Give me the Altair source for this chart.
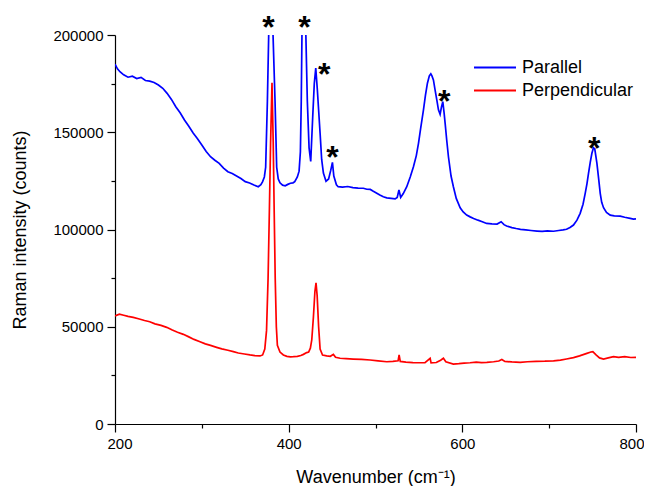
import altair as alt
import pandas as pd

# Parallel (blue) spectrum: wavenumber, intensity
par_x = [200, 203, 206, 210, 215, 220, 225, 230, 235, 240, 245, 250, 255, 260, 265, 270, 275, 280,
         285, 290, 295, 300, 305, 310, 315, 320, 325, 330, 335, 340, 345, 350, 355, 360, 365, 368,
         370, 372, 373.5, 375.5, 377, 379.5, 382, 384.3, 386.2, 388, 390, 393, 396, 399, 402, 405,
         407, 410, 412, 413.5, 414.5, 415.3, 417.5, 419.8, 421.5, 423.5, 425.4, 427.7, 429.5, 431.2,
         433, 436.2, 438, 440, 443, 446, 448.5, 450.4, 452, 455, 457, 462, 468, 474, 480, 486, 490,
         494, 497, 501, 505, 509, 513, 518, 522.6, 525, 527, 529, 532, 536, 540, 543.7, 547, 549.5,
         552, 555.2, 557.5, 559.8, 562, 563.7, 565, 566.7, 568.5, 570.6, 572.5, 574.4, 576, 577.5,
         579, 580.2, 582, 584, 587, 589.7, 593, 597.5, 601, 605, 609, 613, 618, 623, 628, 634, 640,
         644.7, 648, 651, 657, 662, 667, 673, 679, 686, 692, 698, 705, 711, 716, 720, 724, 728, 732,
         735.7, 739, 741.5, 743.5, 745.3, 747.3, 749.2, 751, 752.5, 755, 757, 758.8, 760.5, 762.6,
         766, 770.3, 775, 781.8, 787, 793.3, 797, 800]
par_y = [185000, 182500, 181000, 179500, 178300, 178800, 177600, 178200, 176600, 176300, 175600,
         174300, 172600, 170000, 166900, 163100, 160000, 156300, 153100, 149600, 146700, 143400,
         140100, 137400, 135600, 134000, 131600, 129700, 128800, 127500, 126200, 124600, 123900,
         122900, 122000, 123000, 124600, 127000, 132000, 166000, 200000, 262000, 200000, 166000,
         132000, 126000, 124000, 122800, 122500, 123200, 123800, 124000, 124600, 127000, 130000,
         140000, 166000, 200000, 255000, 200000, 166000, 142000, 135000, 158000, 175000, 183000,
         172000, 149500, 136000, 129000, 124800, 126000, 130500, 134500, 127500, 123000, 122000,
         121800, 122100, 121500, 121300, 121200, 120700, 120600, 119800, 118800, 117700, 116800,
         116300, 116000, 115700, 116500, 120300, 116500, 118500, 122000, 127000, 132300, 138000,
         144300, 152000, 161400, 169000, 175200, 179000, 180000, 179000, 176900, 172000, 166600,
         161500, 159200, 163000, 165700, 160000, 154600, 146000, 137400, 127500, 122000, 116000,
         111200, 109000, 107400, 106500, 105700, 104800, 104000, 103100, 102900, 102800, 104000,
         102500, 101800, 101000, 100500, 100100, 99800, 99500, 99200, 99000, 99300, 99100, 99500,
         99800, 100100, 101000, 102300, 104800, 108300, 113000, 118600, 123500, 128900, 134500,
         139200, 142000, 141500, 134000, 126000, 118600, 114000, 111200, 108800, 107400, 107000,
         106900, 106300, 105700, 105300, 105500]

# Perpendicular (red) spectrum
per_x = [200, 205, 210, 215, 221, 228, 234, 240, 246, 253, 259.5, 266, 272, 278.7, 285, 291, 297.9,
         304, 310, 317, 323, 330, 336.3, 342, 349, 355.5, 361, 367, 370, 372.5, 374.5, 376.3, 377.8,
         379.2, 380.8, 382.2, 383.3, 384.5, 385.8, 387, 390, 393.9, 398, 402, 405.4, 410, 414, 417,
         420.8, 423, 425, 426.6, 428.5, 430.2, 431.5, 432.8, 434.5, 436.2, 439, 443.8, 448, 451.5,
         454, 459.2, 466, 474.5, 484, 493.8, 503, 513, 520, 526, 527.2, 528.5, 535, 543, 551.4, 557,
         562.9, 564, 570, 575, 578.2, 581, 589.7, 596, 602, 608.9, 616, 622, 628.2, 636, 642, 645.5,
         649, 657, 666.6, 675, 685, 695, 705, 713, 720, 728, 735, 743.4, 748, 750.3, 754, 758, 762.6,
         768, 774.1, 780, 787, 794, 800]
per_y = [55500, 56500, 55900, 55300, 54850, 54000, 53200, 52600, 51500, 50700, 49700, 48300, 47200,
         46100, 44800, 43500, 42300, 41200, 40400, 39400, 38600, 37900, 37200, 36500, 36000, 35500,
         35200, 35000, 35500, 38500, 48000, 75000, 110000, 145000, 175500, 145000, 110000, 75000,
         50000, 40500, 37000, 35500, 34800, 34500, 34600, 34800, 35200, 35800, 36700, 37000, 39000,
         43200, 55000, 68000, 72600, 66000, 50000, 38500, 35500, 35000, 34800, 35800, 34300, 33800,
         33600, 33400, 33200, 32900, 32500, 32000, 32200, 32500, 35500, 32200, 31800, 31600, 31500,
         31600, 33800, 31400, 31600, 32800, 33800, 32000, 30800, 31000, 31300, 31500, 31800, 31600,
         31700, 32000, 32400, 33200, 32200, 31900, 31700, 32000, 32200, 32300, 32500, 32800, 33400,
         34100, 35000, 36300, 37000, 37200, 35500, 34000, 33400, 34000, 34600, 34300, 34600, 34200,
         34300]

# Asterisk annotations (glyph baseline positions)
star_x = [376.6, 418.1, 440.8, 450.3, 579, 751.8]
star_y = [198600, 198600, 174200, 131400, 160200, 136500]

series_names = ["Parallel", "Perpendicular"]
series_colors = ["#0000FF", "#FF0000"]

df = pd.concat([
    pd.DataFrame({"x": par_x, "y": par_y, "series": "Parallel", "order": range(len(par_x))}),
    pd.DataFrame({"x": per_x, "y": per_y, "series": "Perpendicular", "order": range(len(per_x))}),
])
stars = pd.DataFrame({"x": star_x, "y": star_y, "t": ["*"] * len(star_x)})

FONT = "Liberation Sans"

xscale = alt.Scale(domain=[200, 800], nice=False, zero=False)
yscale = alt.Scale(domain=[0, 200000], nice=False)

xaxis = alt.Axis(
    title="Wavenumber (cm⁻¹)",
    values=list(range(200, 801, 100)),
    labelExpr="datum.value % 200 === 0 ? datum.label : ''",
    tickSize={"condition": {"test": "datum.value % 200 === 0", "value": 8}, "value": 4},
    labelPadding=4, titlePadding=17, grid=False, labelFlush=True, labelFlushOffset=8,
)
yaxis = alt.Axis(
    title="Raman intensity (counts)",
    values=list(range(0, 200001, 25000)),
    format="d",
    labelExpr="datum.value % 50000 === 0 ? datum.label : ''",
    tickSize={"condition": {"test": "datum.value % 50000 === 0", "value": 8}, "value": 4},
    labelPadding=4, titlePadding=23, grid=False, labelFlush=False,
)

lines = alt.Chart(df).mark_line(clip=True, strokeWidth=1.7).encode(
    x=alt.X("x:Q", scale=xscale, axis=xaxis),
    y=alt.Y("y:Q", scale=yscale, axis=yaxis),
    color=alt.Color(
        "series:N",
        scale=alt.Scale(domain=series_names, range=series_colors),
        legend=alt.Legend(
            title=None, orient="none", legendX=358, legendY=21,
            symbolType="stroke", symbolSize=1764, symbolStrokeWidth=2,
            labelFontSize=18, labelFont=FONT, labelColor="#000", labelOffset=5,
            clipHeight=23, rowPadding=0, padding=0,
        ),
    ),
    detail="series:N",
    order="order:Q",
)

star_marks = alt.Chart(stars).mark_text(
    fontSize=32, fontWeight="bold", font=FONT, color="#000", baseline="alphabetic", clip=False
).encode(
    x=alt.X("x:Q", scale=xscale),
    y=alt.Y("y:Q", scale=yscale),
    text="t:N",
)

chart = alt.layer(lines, star_marks).properties(
    width=521, height=389,
    padding={"left": 107, "top": 27, "right": 8, "bottom": 62},
    autosize="none",
).configure_view(stroke=None).configure_axis(
    labelFont=FONT, titleFont=FONT, labelFontSize=15, titleFontSize=18,
    titleFontWeight="normal", labelColor="#000", titleColor="#000",
    domainColor="#000", tickColor="#000", domainWidth=1.2, tickWidth=1.2,
)

chart.save("out.html", embed_options={"renderer": "svg", "actions": False})
